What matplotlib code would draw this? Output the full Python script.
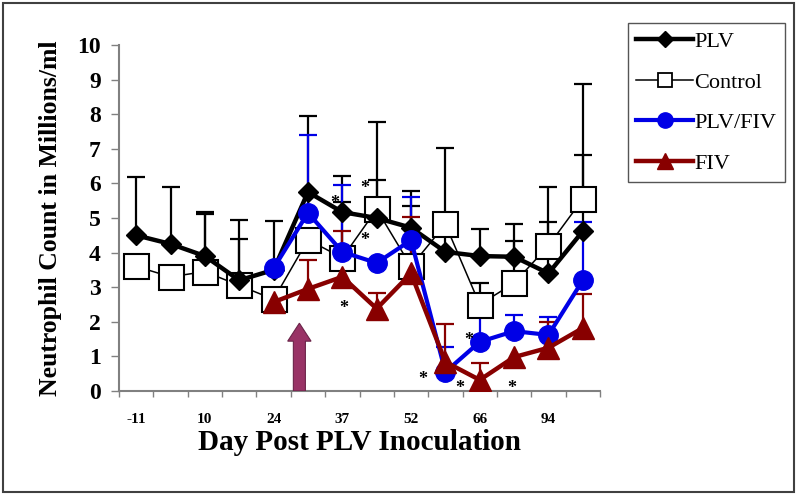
import numpy as np
import matplotlib.pyplot as plt
from matplotlib.lines import Line2D
from matplotlib.patches import FancyArrow, Rectangle

nan = np.nan

# x categories (sampling days); only every other one carries a label
tick_labels = ["-11", "", "10", "", "24", "", "37", "", "52", "", "66", "", "94", ""]

# series values (millions/ml) and top of the "plus" error bars
plv = [4.5, 4.25, 3.9, 3.2, 3.5, 5.75, 5.17, 5.0, 4.72, 4.02, 3.9, 3.88, 3.4, 4.62]
plv_up = [6.18, 5.9, 5.17, 4.95, 4.9, 7.95, 6.2, 6.1, 5.78, 4.7, 4.68, 4.34, 4.88, 6.82]

control = [3.6, 3.3, 3.45, 3.05, 2.65, 4.37, 3.85, 5.25, 3.6, 4.82, 2.5, 3.12, 4.2, 5.55]
control_up = [nan, nan, 5.12, 4.4, nan, nan, 5.46, 7.77, 5.35, 7.02, 3.12, 4.83, 5.9, 8.87]

plv_fiv = [nan, nan, nan, nan, 3.55, 5.15, 4.02, 3.7, 4.36, 0.55, 1.42, 1.73, 1.62, 3.2]
plv_fiv_up = [nan, nan, nan, nan, nan, 7.4, 5.95, nan, 5.6, 1.27, 2.3, 2.2, 2.14, 4.88]

fiv = [nan, nan, nan, nan, 2.57, 2.95, 3.3, 2.38, 3.4, 0.84, 0.32, 0.98, 1.25, 1.82]
fiv_up = [nan, nan, nan, nan, nan, 3.78, 4.62, 2.83, 5.03, 1.93, 0.82, nan, 2.0, 2.8]

# significance marks (category position, value)
star_x = [6.66, 5.79, 6.66, 6.05, 9.69, 8.35, 9.43, 10.94]
star_y = [5.85, 5.42, 4.36, 2.37, 1.47, 0.32, 0.06, 0.06]

# inoculation arrow (category position, height)
arrow_x = 4.75
arrow_top = 1.96

serif = ["Liberation Serif", "DejaVu Serif"]
plt.rcParams['font.family'] = serif

blue = '#0000e6'
red = '#880000'

fig = plt.figure(figsize=(8, 4.95), dpi=100)
ax = fig.add_axes([119 / 800, 1 - 391 / 495, 481 / 800, 346 / 495])

x = np.arange(len(tick_labels))


def plus_bars(vals, ups, color, z):
    vals = np.array(vals, dtype=float)
    ups = np.array(ups, dtype=float)
    ok = ~np.isnan(ups)
    ax.vlines(x[ok], vals[ok], ups[ok], colors=color, lw=1.6, zorder=z)
    ax.plot(x[ok], ups[ok], ls='none', marker='_', ms=13, mew=1.6, color=color, zorder=z)


plus_bars(control, control_up, 'black', 1.5)
plus_bars(plv, plv_up, 'black', 1.6)
plus_bars(plv_fiv, plv_fiv_up, blue, 1.7)
plus_bars(fiv, fiv_up, red, 1.8)

ax.plot(x, control, color='black', lw=1.1, marker='s', ms=18, mfc='white',
        mec='black', mew=1.5, zorder=2)
ax.plot(x, plv, color='black', lw=3.2, marker='D', ms=10.5, zorder=3)
ax.plot(x, plv_fiv, color=blue, lw=3.0, marker='o', ms=14, zorder=4)
ax.plot(x, fiv, color=red, lw=3.2, marker='^', ms=16, zorder=5)

for sx, sy in zip(star_x, star_y):
    ax.text(sx, sy, '*', ha='center', va='center', fontsize=13,
            fontweight='bold', zorder=6)

ax.add_patch(FancyArrow(arrow_x, 0, 0, arrow_top, width=0.35, head_width=0.68,
                        head_length=0.52, length_includes_head=True,
                        facecolor='#993366', edgecolor='#6b2449', lw=0.8,
                        zorder=6))

ax.set_xlim(-0.5, len(tick_labels) - 0.5)
ax.set_ylim(0, 10)
ax.set_yticks(range(11))
ax.set_xticks(x)
ax.set_xticklabels(tick_labels)
ax.set_xticks(np.arange(len(tick_labels) + 1) - 0.5, minor=True)

for s in ['top', 'right']:
    ax.spines[s].set_visible(False)
for s in ['left', 'bottom']:
    ax.spines[s].set_color('#808080')
    ax.spines[s].set_linewidth(1.5)

ax.tick_params(axis='y', direction='out', length=6, width=1, color='#808080',
               pad=7, labelsize=17)
ax.tick_params(axis='x', which='major', length=0, pad=16, labelsize=11)
ax.tick_params(axis='x', which='minor', direction='out', length=4, width=1,
               color='#808080')
for lab in ax.get_xticklabels() + ax.get_yticklabels():
    lab.set_fontweight('bold')

ax.set_ylabel('Neutrophil Count in Millions/ml', fontsize=18.5, fontweight='bold',
              labelpad=11)
ax.set_xlabel('Day Post PLV Inoculation', fontsize=21, fontweight='bold',
              labelpad=2)

handles = [
    Line2D([], [], color='black', lw=3.2, marker='D', ms=8),
    Line2D([], [], color='black', lw=1.1, marker='s', ms=9.5, mfc='white', mew=1.3),
    Line2D([], [], color=blue, lw=3.0, marker='o', ms=11),
    Line2D([], [], color=red, lw=3.2, marker='^', ms=12),
]
leg = fig.legend(handles, ['PLV', 'Control', 'PLV/FIV', 'FIV'],
                 loc='upper left', bbox_to_anchor=(628 / 800, 1 - 23 / 495),
                 borderaxespad=0, fontsize=16, handlelength=2.55,
                 handletextpad=0.05, labelspacing=0.9, borderpad=0.38,
                 fancybox=False, framealpha=1, edgecolor='#555555')
leg.get_frame().set_linewidth(1.0)

fig.patches.append(Rectangle((3 / 800, 3 / 495), 791 / 800, 489 / 495,
                             transform=fig.transFigure, fill=False,
                             edgecolor='#404040', lw=1.5))

fig.savefig('out.png', dpi=100)
